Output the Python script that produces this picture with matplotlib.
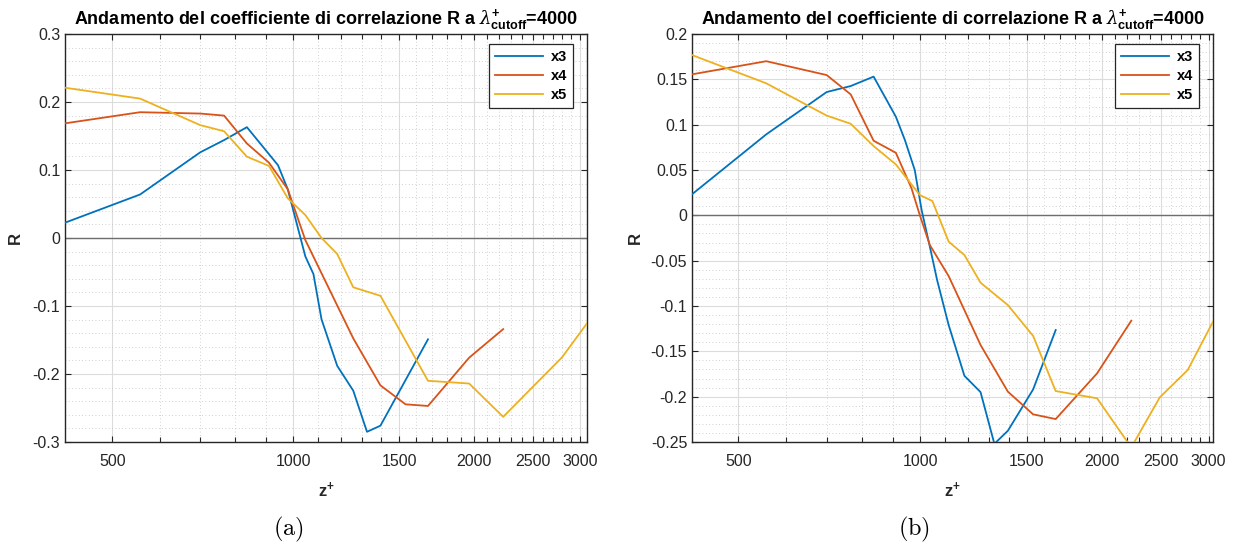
import matplotlib
matplotlib.use("Agg")
import matplotlib.pyplot as plt
from matplotlib.ticker import FixedLocator, FixedFormatter, NullFormatter

plt.rcParams["font.family"] = ["Liberation Sans", "DejaVu Sans"]
plt.rcParams["mathtext.fontset"] = "custom"
plt.rcParams["mathtext.rm"] = "Liberation Sans"
plt.rcParams["mathtext.it"] = "DejaVu Serif:italic"
plt.rcParams["mathtext.bf"] = "Liberation Sans:bold"
plt.rcParams["axes.unicode_minus"] = False

# (a) correlation coefficient R vs z+
z3_a = [417, 556, 700, 767, 837, 943, 979, 1047, 1080, 1114, 1183, 1258, 1326, 1396, 1675]
r3_a = [0.0225, 0.064, 0.126, 0.144, 0.163, 0.107, 0.0716, -0.027, -0.053, -0.1196,
        -0.188, -0.2245, -0.285, -0.276, -0.149]
z4_a = [417, 556, 700, 767, 837, 911, 979, 1047, 1258, 1396, 1537, 1675, 1961, 2234]
r4_a = [0.1686, 0.185, 0.183, 0.180, 0.139, 0.1107, 0.0716, -0.003, -0.1476, -0.2167,
        -0.2446, -0.247, -0.176, -0.134]
z5_a = [417, 556, 700, 767, 837, 911, 979, 1047, 1114, 1183, 1258, 1396, 1675, 1961,
        2234, 2799, 3080]
r5_a = [0.221, 0.205, 0.166, 0.157, 0.1196, 0.106, 0.0584, 0.0338, 0.0, -0.0235,
        -0.0725, -0.085, -0.21, -0.214, -0.263, -0.1755, -0.1255]

# (b)
z3_b = [419, 556, 700, 767, 837, 911, 943, 979, 1005, 1037, 1066, 1114, 1183, 1258,
        1326, 1396, 1537, 1675]
r3_b = [0.0232, 0.0893, 0.136, 0.1426, 0.153, 0.1088, 0.083, 0.050, 0.0058, -0.0346,
        -0.0713, -0.121, -0.177, -0.195, -0.252, -0.2376, -0.192, -0.1265]
z4_b = [419, 556, 700, 767, 837, 911, 967, 998, 1037, 1114, 1258, 1396, 1537, 1675,
        1961, 2234]
r4_b = [0.1555, 0.170, 0.1547, 0.1334, 0.0823, 0.069, 0.0298, 0.0003, -0.0328, -0.067,
        -0.143, -0.1945, -0.2195, -0.2247, -0.1743, -0.1162]
z5_b = [419, 556, 700, 767, 837, 911, 998, 1047, 1114, 1183, 1258, 1396, 1537, 1675,
        1961, 2234, 2490, 2770, 3050]
r5_b = [0.1768, 0.1456, 0.110, 0.101, 0.0764, 0.0562, 0.0224, 0.0158, -0.029, -0.0438,
        -0.0743, -0.099, -0.133, -0.1938, -0.2018, -0.256, -0.2008, -0.1706, -0.1173]

labels = ["x3", "x4", "x5"]
xticks = [500, 1000, 1500, 2000, 2500, 3000]
title = r"Andamento del coefficiente di correlazione R a $\lambda^{\mathbf{+}}_{\mathbf{cutoff}}$=4000"

colors = ["#0072BD", "#D95319", "#EDB120"]
ink = "#262626"


def draw_panel(ax, series, yticks, yminor):
    for (z, r), c, lab in zip(series, colors, labels):
        ax.plot(z, r, color=c, lw=1.3, label=lab, zorder=3)
    ax.axhline(0, color="#6e6e6e", lw=1.0, zorder=2)

    ax.set_xscale("log")
    ax.set_xlim(series[2][0][0], series[2][0][-1])
    ax.set_ylim(yticks[0], yticks[-1])

    ax.xaxis.set_major_locator(FixedLocator(xticks))
    ax.xaxis.set_major_formatter(FixedFormatter([str(t) for t in xticks]))
    ax.xaxis.set_minor_locator(FixedLocator([v for v in range(500, 3100, 100) if v not in xticks]))
    ax.xaxis.set_minor_formatter(NullFormatter())
    ax.yaxis.set_major_locator(FixedLocator(yticks))
    ax.yaxis.set_major_formatter(FixedFormatter(["%g" % round(t, 3) for t in yticks]))
    ax.yaxis.set_minor_locator(FixedLocator(yminor))

    ax.grid(True, which="major", color="#dcdcdc", lw=0.8, zorder=0)
    ax.grid(True, which="minor", color="#c2c2c2", lw=0.6, ls=(0, (1, 3)), zorder=0)
    ax.set_axisbelow(True)

    ax.tick_params(which="both", direction="in", top=True, right=True, colors=ink,
                   labelsize=11.5, width=0.8)
    ax.tick_params(which="major", length=4)
    ax.tick_params(axis="x", which="minor", length=3.5)
    ax.tick_params(axis="y", which="minor", length=0)
    ax.tick_params(axis="x", pad=9)
    for sp in ax.spines.values():
        sp.set_color(ink)
        sp.set_linewidth(1.0)

    ax.set_title(title, fontsize=13, fontweight="bold", color="black", pad=7)
    ax.set_xlabel(r"z$^{\mathbf{+}}$", fontsize=12, fontweight="bold", color=ink, labelpad=8)
    ax.set_ylabel("R", fontsize=12, fontweight="bold", color=ink)

    leg = ax.legend(loc="upper right", bbox_to_anchor=(0.973, 0.976), borderaxespad=0,
                    fancybox=False, framealpha=1, edgecolor=ink, handlelength=3.3,
                    prop={"weight": "bold", "size": 10.5}, borderpad=0.4,
                    labelspacing=0.35, handletextpad=0.5)
    leg.get_frame().set_linewidth(0.9)


fig = plt.figure(figsize=(12.38, 5.47), dpi=100)
ax1 = fig.add_axes([65 / 1238, 105 / 547, 522 / 1238, 408 / 547])
ax2 = fig.add_axes([692 / 1238, 105 / 547, 521 / 1238, 408 / 547])

yt_a = [-0.3, -0.2, -0.1, 0.0, 0.1, 0.2, 0.3]
ym_a = [round(-0.3 + 0.02 * i, 3) for i in range(31)]
yt_b = [-0.25, -0.2, -0.15, -0.1, -0.05, 0.0, 0.05, 0.1, 0.15, 0.2]
ym_b = [round(-0.25 + 0.01 * i, 3) for i in range(46)]

draw_panel(ax1, [(z3_a, r3_a), (z4_a, r4_a), (z5_a, r5_a)], yt_a, ym_a)
draw_panel(ax2, [(z3_b, r3_b), (z4_b, r4_b), (z5_b, r5_b)], yt_b, ym_b)
ax1.yaxis.set_label_coords(-0.08, 0.5)
ax2.yaxis.set_label_coords(-0.094, 0.5)

fig.text(288 / 1238, 1 - 529 / 547, r"$\mathrm{(a)}$", math_fontfamily="cm",
         fontsize=17.5, ha="center", va="center")
fig.text(914 / 1238, 1 - 529 / 547, r"$\mathrm{(b)}$", math_fontfamily="cm",
         fontsize=17.5, ha="center", va="center")

fig.savefig("out.png", dpi=100, facecolor="white")
